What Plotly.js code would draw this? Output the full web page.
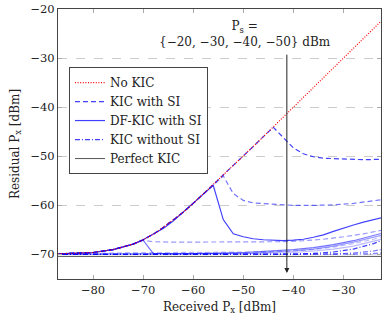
<!DOCTYPE html>
<html>
<head>
<meta charset="utf-8">
<script src="https://cdn.plot.ly/plotly-3.0.1.min.js"></script>
<style>html,body{margin:0;padding:0;background:#fff;}#chart{width:382px;height:322px;}</style>
</head>
<body>
<div id="chart"></div>
<script>
// ---- data ----
const psLevels = [-20, -30, -40, -50];

const noKicX = [-88,-84,-80,-76,-72,-70,-68,-66,-64,-62,-60,-58,-56,-54,-52,-50,-48,-46,-44,-40,-22];
const noKicY = [-69.9,-69.8,-69.6,-69.0,-67.9,-67.0,-65.9,-64.5,-63.0,-61.4,-59.6,-57.7,-55.8,-53.9,-51.9,-50.0,-48.0,-46.0,-44.0,-40.0,-22.0];

// KIC with SI (dashed)
const kicSiX20 = [-88,-84,-80,-76,-72,-70,-68,-66,-64,-62,-60,-58,-56,-54,-52,-50,-48,-46,-44,-42,-40,-38,-36,-34,-30,-26,-22];
const kicSiY20 = [-69.9,-69.8,-69.6,-69.0,-67.9,-67.0,-65.9,-64.5,-63.0,-61.4,-59.6,-57.7,-55.8,-53.9,-51.9,-50.0,-48.0,-46.0,-44.1,-46.2,-48.3,-49.5,-50.1,-50.4,-50.6,-50.7,-50.6];
const kicSiX30 = [-88,-84,-80,-76,-72,-70,-68,-66,-64,-62,-60,-58,-56,-54,-52,-50,-48,-44,-40,-36,-32,-28,-24,-22];
const kicSiY30 = [-69.9,-69.8,-69.6,-69.0,-67.9,-67.0,-65.9,-64.5,-63.0,-61.4,-59.6,-57.7,-55.8,-54.0,-57.6,-59.0,-59.5,-59.8,-60.0,-60.0,-59.9,-59.6,-59.1,-58.8];
const kicSiX40 = [-88,-84,-80,-76,-72,-70,-68,-64,-56,-48,-42,-38,-34,-30,-26,-22];
const kicSiY40 = [-69.9,-69.8,-69.6,-69.0,-67.9,-67.1,-67.4,-67.5,-67.5,-67.5,-67.4,-67.2,-66.9,-66.4,-65.8,-65.0];
const kicSiX50 = [-88,-84,-80,-76,-72,-64,-56,-48,-40,-36,-32,-28,-24,-22];
const kicSiY50 = [-69.95,-69.85,-69.7,-69.6,-69.6,-69.6,-69.6,-69.5,-69.3,-69.0,-68.5,-67.8,-66.9,-66.3];

// DF-KIC with SI (solid)
const dfX20 = [-88,-84,-80,-76,-72,-70,-68,-66,-64,-62,-60,-58,-56,-54,-52,-50,-48,-46,-44,-42,-40,-38,-36,-34,-32,-30,-28,-26,-24,-22];
const dfY20 = [-69.9,-69.8,-69.6,-69.0,-67.9,-67.0,-65.9,-64.7,-63.2,-61.4,-59.6,-57.7,-55.9,-62.9,-65.8,-66.4,-66.8,-67.0,-67.1,-67.2,-67.1,-66.9,-66.5,-66.0,-65.3,-64.6,-64.0,-63.4,-62.9,-62.4];
const dfX30 = [-88,-84,-80,-76,-72,-70,-68,-64,-60,-56,-50,-44,-40,-36,-32,-28,-24,-22];
const dfY30 = [-69.9,-69.8,-69.6,-69.0,-67.9,-67.1,-69.8,-69.9,-69.9,-69.8,-69.6,-69.3,-69.0,-68.6,-68.0,-67.2,-66.2,-65.6];
const dfX40 = [-88,-80,-72,-64,-56,-48,-44,-40,-36,-32,-28,-24,-22];
const dfY40 = [-69.95,-69.9,-69.85,-69.85,-69.8,-69.7,-69.5,-69.3,-68.9,-68.3,-67.5,-66.6,-66.0];
const dfX50 = [-88,-80,-72,-64,-56,-48,-44,-40,-36,-32,-28,-24,-22];
const dfY50 = [-70.0,-70.0,-69.95,-69.95,-69.9,-69.8,-69.7,-69.6,-69.3,-68.9,-68.3,-67.4,-66.8];

// KIC without SI (dash-dot)
const noSiX = [-88,-80,-72,-64,-56,-48,-40,-36,-32,-28,-24,-22];
const noSiY20 = [-70.0,-70.0,-70.0,-70.0,-70.0,-70.0,-69.95,-69.8,-69.5,-68.9,-67.8,-67.0];
const noSiY30 = [-70.0,-70.0,-70.0,-70.0,-70.0,-70.0,-70.0,-69.95,-69.9,-69.7,-69.3,-68.9];
const noSiY40 = [-70.0,-70.0,-70.0,-70.0,-70.0,-70.0,-70.0,-70.0,-70.0,-69.95,-69.8,-69.6];
const noSiY50 = [-70.0,-70.0,-70.0,-70.0,-70.0,-70.0,-70.0,-70.0,-70.0,-70.0,-69.95,-69.9];

// Perfect KIC
const perfectX = [-88, -22];
const perfectY = [-70.4, -70.4];

// ---- styling ----
const alphas = [0.75, 0.55, 0.4, 0.27];
const blue = a => `rgba(0,0,255,${a})`;
const DASH = '5px,3px', DOT = '1px,1.6px', DASHDOT = '5px,2px,1px,2px';
const font = 'DejaVu Serif, serif';

const traces = [];
const kicSi = [[kicSiX20,kicSiY20],[kicSiX30,kicSiY30],[kicSiX40,kicSiY40],[kicSiX50,kicSiY50]];
const df = [[dfX20,dfY20],[dfX30,dfY30],[dfX40,dfY40],[dfX50,dfY50]];
const noSi = [[noSiX,noSiY20],[noSiX,noSiY30],[noSiX,noSiY40],[noSiX,noSiY50]];

function addGroup(arr, name, dash, rank) {
  arr.forEach((d, i) => {
    traces.push({
      x: d[0], y: d[1], type: 'scatter', mode: 'lines',
      name: name, showlegend: i === 0, legendrank: rank,
      line: {color: blue(alphas[i]), width: 1.2, dash: dash}
    });
  });
}
addGroup(noSi, 'KIC without SI', DASHDOT, 4);
addGroup(kicSi, 'KIC with SI', DASH, 2);
addGroup(df, 'DF-KIC with SI', 'solid', 3);

traces.push({x: perfectX, y: perfectY, type: 'scatter', mode: 'lines', name: 'Perfect KIC',
  legendrank: 5, line: {color: '#555', width: 1}});
traces.push({x: noKicX, y: noKicY, type: 'scatter', mode: 'lines', name: 'No KIC',
  legendrank: 1, line: {color: '#ff0000', width: 1.2, dash: DOT}});

const layout = {
  width: 382, height: 322,
  margin: {l: 58, r: 1, t: 9, b: 43},
  paper_bgcolor: '#fff', plot_bgcolor: '#fff',
  font: {family: font, size: 12, color: '#222'},
  showlegend: true,
  legend: {x: 0.034, y: 0.785, xanchor: 'left', yanchor: 'top',
    bgcolor: '#fff', bordercolor: '#444', borderwidth: 1,
    font: {family: font, size: 12, color: '#222'}, itemwidth: 30, tracegroupgap: 0},
  xaxis: {
    range: [-87, -22.5], tick0: -80, dtick: 10, showgrid: false, zeroline: false,
    ticks: 'inside', ticklen: 4, tickcolor: '#aaa', mirror: 'ticks',
    showline: true, linecolor: '#444', linewidth: 1,
    tickfont: {family: font, size: 11.5, color: '#222'},
    title: {text: 'Received P<sub>x</sub> [dBm]', font: {family: font, size: 12, color: '#222'}, standoff: 6}
  },
  yaxis: {
    range: [-75, -20], tick0: -70, dtick: 10, zeroline: false,
    showgrid: true, gridcolor: '#ccc', griddash: 'dash', gridwidth: 1,
    ticks: 'inside', ticklen: 4, tickcolor: '#aaa', mirror: 'ticks',
    showline: true, linecolor: '#444', linewidth: 1,
    tickfont: {family: font, size: 11.5, color: '#222'},
    title: {text: 'Residual P<sub>x</sub> [dBm]', font: {family: font, size: 12, color: '#222'}, standoff: 8}
  },
  annotations: [
    {x: -49.7, y: -25.1, xref: 'x', yref: 'y', showarrow: false,
     text: 'P<sub>s</sub> =<br>{−20, −30, −40, −50} dBm',
     font: {family: font, size: 12, color: '#222'}, xanchor: 'center', yanchor: 'middle', align: 'center'},
    {x: -41.3, y: -73.8, ax: -41.3, ay: -29.0, xref: 'x', yref: 'y', axref: 'x', ayref: 'y',
     text: '', showarrow: true, arrowhead: 2, arrowsize: 1, arrowwidth: 1, arrowcolor: '#222', standoff: 0}
  ]
};

Plotly.newPlot('chart', traces, layout, {staticPlot: true, displayModeBar: false});
</script>
</body>
</html>
